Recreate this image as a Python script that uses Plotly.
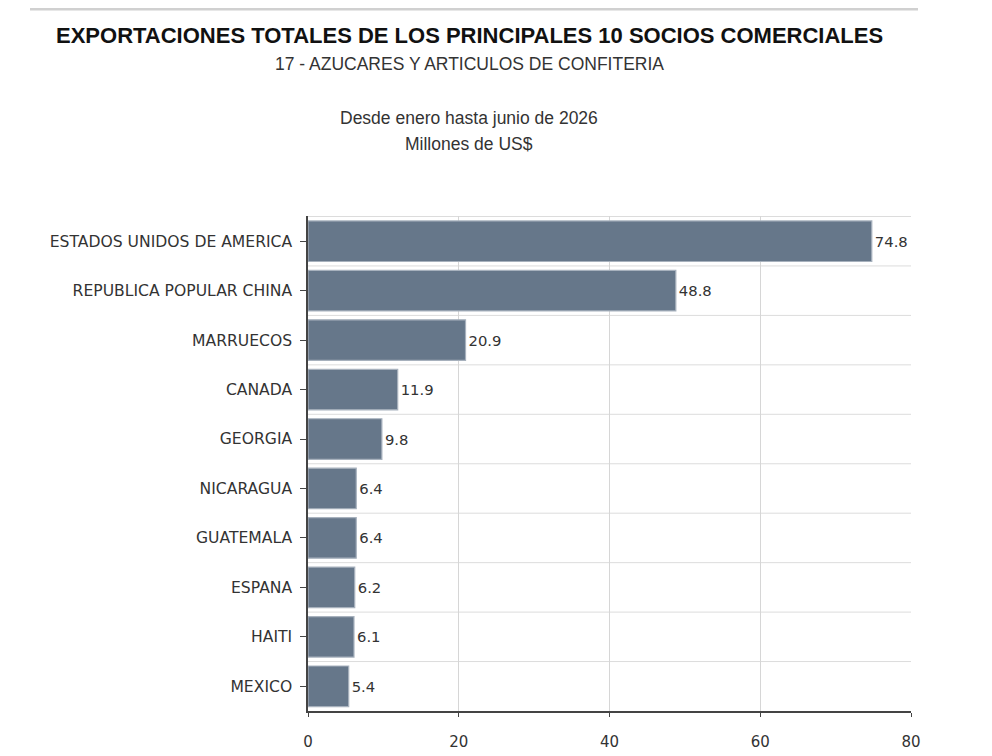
import plotly.graph_objects as go

# Datos: exportaciones ene-jun 2026, millones de US$
paises = ["ESTADOS UNIDOS DE AMERICA", "REPUBLICA POPULAR CHINA", "MARRUECOS", "CANADA",
          "GEORGIA", "NICARAGUA", "GUATEMALA", "ESPANA", "HAITI", "MEXICO"]
valores = [74.8, 48.8, 20.9, 11.9, 9.8, 6.4, 6.4, 6.2, 6.1, 5.4]
ticks_x = [0, 20, 40, 60, 80]

W, H = 992, 756
OFF = 8  # margen del body en la pagina
L, T = 308 - OFF, 216 - OFF
R = W - (911 - OFF)
B = H - (711 - OFF)
pw = W - L - R
ph = H - T - B

def px_x(x):
    return (x - OFF - L) / pw

def px_y(y):
    return 1 + (T - (y - OFF)) / ph

fig = go.Figure()
fig.add_trace(go.Bar(
    y=paises, x=valores, orientation="h",
    marker=dict(color="#66778a", line=dict(color="#a7b1bd", width=1.2)),
    text=[f"{v:.1f}" for v in valores], textposition="outside",
    textfont=dict(family="DejaVu Sans", size=14.8, color="#333333"),
    cliponaxis=False, width=0.82,
))

# lineas horizontales entre categorias
shapes = []
for i in range(len(paises)):
    shapes.append(dict(type="line", xref="paper", yref="y", x0=0, x1=1,
                       y0=i - 0.5, y1=i - 0.5, line=dict(color="#dcdcdc", width=1), layer="below"))
# linea gris superior de la pagina
shapes.append(dict(type="line", xref="paper", yref="paper", x0=px_x(30), x1=px_x(918),
                   y0=px_y(OFF + 1), y1=px_y(OFF + 1), line=dict(color="#d0d0d0", width=3)))

ann = [
    dict(text="<b>EXPORTACIONES TOTALES DE LOS PRINCIPALES 10 SOCIOS COMERCIALES</b>", y=px_y(36),
         font=dict(family="Liberation Sans", size=22, color="#111111")),
    dict(text="17 - AZUCARES Y ARTICULOS DE CONFITERIA", y=px_y(64),
         font=dict(family="Liberation Sans", size=17.5, color="#333333")),
    dict(text="Desde enero hasta junio de 2026", y=px_y(118),
         font=dict(family="Liberation Sans", size=17.5, color="#333333")),
    dict(text="Millones de US$", y=px_y(144),
         font=dict(family="Liberation Sans", size=17.5, color="#333333")),
]
for a in ann:
    a.update(xref="paper", yref="paper", x=px_x(469), xanchor="center", yanchor="middle", showarrow=False)

fig.update_layout(
    width=W, height=H, margin=dict(l=L, r=R, t=T, b=B),
    paper_bgcolor="white", plot_bgcolor="white", showlegend=False,
    shapes=shapes, annotations=ann,
    font=dict(family="DejaVu Sans", size=14.8, color="#333333"),
)
fig.update_xaxes(range=[0, 80], tickvals=ticks_x, showgrid=True, gridcolor="#d6d6d6",
                 zeroline=False, showline=True, linecolor="#444444", linewidth=1.5,
                 ticks="outside", ticklen=4, tickcolor="#444444", ticklabelstandoff=12,
                 tickfont=dict(family="DejaVu Sans", size=15))
fig.update_yaxes(autorange="reversed", showgrid=False, showline=True, linecolor="#444444",
                 linewidth=1.5, ticks="outside", ticklen=6, tickcolor="#444444",
                 tickfont=dict(family="DejaVu Sans", size=15.6), ticksuffix=" ")

fig.write_html("out.html")
